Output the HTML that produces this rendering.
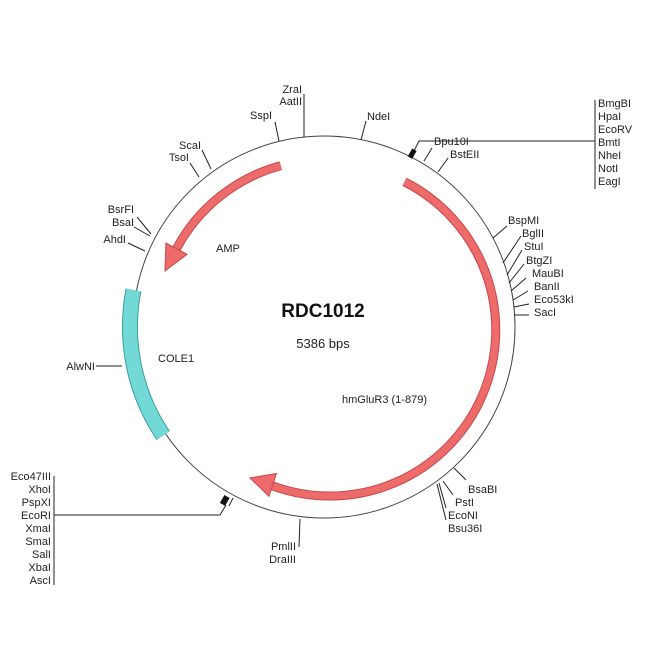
<!DOCTYPE html>
<html><head><style>body{margin:0;background:#fff}svg{display:block}text{font-family:"Liberation Sans",sans-serif;font-size:11px;fill:#222}</style></head><body>
<svg width="650" height="650" viewBox="0 0 650 650">
<circle cx="324" cy="327" r="191" fill="none" stroke="#444" stroke-width="1"/>
<path d="M133.5,290 A194,194 0 0 0 163.2,435.5" fill="none" stroke="#3a9e9e" stroke-width="16"/>
<path d="M133.5,290 A194,194 0 0 0 163.2,435.5" fill="none" stroke="#72d9d6" stroke-width="14"/>
<g fill="#ee6b6b" stroke="#c9474a" stroke-width="1">
<path d="M404.5,181.8 A166,166 0 0 1 272.4,485.8" fill="none" stroke="#c9474a" stroke-width="9"/>
<path d="M404.5,181.8 A166,166 0 0 1 272.4,485.8" fill="none" stroke="#ee6b6b" stroke-width="7"/>
<polygon points="276.4,473.5 269,496.3 250,478"/>
<path d="M280.8,165.7 A167,167 0 0 0 176.5,248.7" fill="none" stroke="#c9474a" stroke-width="9"/>
<path d="M280.8,165.7 A167,167 0 0 0 176.5,248.7" fill="none" stroke="#ee6b6b" stroke-width="7"/>
<polygon points="187.1,254.3 165.9,243.1 165,271"/>
</g>
<g stroke="#222" stroke-width="1" fill="none">
<line x1="304" y1="137" x2="304" y2="94"/>
<line x1="279" y1="141" x2="275" y2="122"/>
<line x1="361" y1="140" x2="366" y2="121"/>
<line x1="211" y1="169" x2="202" y2="150"/>
<line x1="199" y1="177" x2="190" y2="163"/>
<line x1="151" y1="234" x2="137" y2="217"/>
<line x1="150" y1="236" x2="134" y2="227"/>
<line x1="145" y1="251" x2="128" y2="243"/>
<line x1="96" y1="366" x2="122" y2="366"/>
<polyline points="412,155 419,141 595,141"/>
<line x1="424" y1="161" x2="432" y2="148"/>
<line x1="438" y1="172" x2="448" y2="158"/>
<line x1="595" y1="100" x2="595" y2="189"/>
<line x1="493" y1="238" x2="507" y2="226"/>
<line x1="503" y1="263" x2="521" y2="236"/>
<line x1="507" y1="275" x2="522" y2="250"/>
<line x1="509" y1="283" x2="524" y2="264"/>
<line x1="511" y1="291" x2="526" y2="278"/>
<line x1="513" y1="300" x2="528" y2="291"/>
<line x1="514" y1="307" x2="529" y2="304"/>
<line x1="514" y1="315" x2="529" y2="315"/>
<line x1="454" y1="468" x2="466" y2="480"/>
<line x1="443" y1="481" x2="453" y2="495"/>
<line x1="439" y1="483" x2="446" y2="508"/>
<line x1="437" y1="484" x2="446" y2="520"/>
<line x1="300" y1="519" x2="299" y2="547"/>
<line x1="54" y1="476" x2="54" y2="585"/>
<polyline points="54,515 220,515 226,505"/>
<line x1="229" y1="506" x2="233" y2="498"/>
</g>
<rect x="222" y="496" width="6" height="9" fill="#111" transform="rotate(30 225 500)"/>
<rect x="410" y="149" width="5" height="9" fill="#111" transform="rotate(30 412 153)"/>
<text x="302" y="93" text-anchor="end">ZraI</text>
<text x="302" y="105" text-anchor="end">AatII</text>
<text x="272" y="119" text-anchor="end">SspI</text>
<text x="367" y="120">NdeI</text>
<text x="201" y="149" text-anchor="end">ScaI</text>
<text x="189" y="161" text-anchor="end">TsoI</text>
<text x="134" y="213" text-anchor="end">BsrFI</text>
<text x="134" y="226" text-anchor="end">BsaI</text>
<text x="126" y="243" text-anchor="end">AhdI</text>
<text x="95" y="370" text-anchor="end">AlwNI</text>
<text x="434" y="145">Bpu10I</text>
<text x="450" y="158">BstEII</text>
<g><text x="598" y="107">BmgBI</text><text x="598" y="120">HpaI</text><text x="598" y="133">EcoRV</text><text x="598" y="146">BmtI</text><text x="598" y="159">NheI</text><text x="598" y="172">NotI</text><text x="598" y="185">EagI</text></g>
<text x="508" y="224">BspMI</text>
<text x="522" y="237">BglII</text>
<text x="524" y="250">StuI</text>
<text x="526" y="264">BtgZI</text>
<text x="532" y="277">MauBI</text>
<text x="534" y="290">BanII</text>
<text x="534" y="303">Eco53kI</text>
<text x="534" y="316">SacI</text>
<text x="468" y="493">BsaBI</text>
<text x="455" y="506">PstI</text>
<text x="448" y="519">EcoNI</text>
<text x="448" y="532">Bsu36I</text>
<text x="296" y="550" text-anchor="end">PmlII</text>
<text x="296" y="563" text-anchor="end">DraIII</text>
<g text-anchor="end"><text x="51" y="480">Eco47III</text><text x="51" y="493">XhoI</text><text x="51" y="506">PspXI</text><text x="51" y="519">EcoRI</text><text x="51" y="532">XmaI</text><text x="51" y="545">SmaI</text><text x="51" y="558">SalI</text><text x="51" y="571">XbaI</text><text x="51" y="584">AscI</text></g>
<text x="216" y="252">AMP</text>
<text x="158" y="362">COLE1</text>
<text x="342" y="403">hmGluR3 (1-879)</text>
<text x="323" y="317" text-anchor="middle" style="font-size:19px;font-weight:bold;fill:#111">RDC1012</text>
<text x="323" y="348" text-anchor="middle" style="font-size:13px">5386 bps</text>
</svg>
</body></html>
